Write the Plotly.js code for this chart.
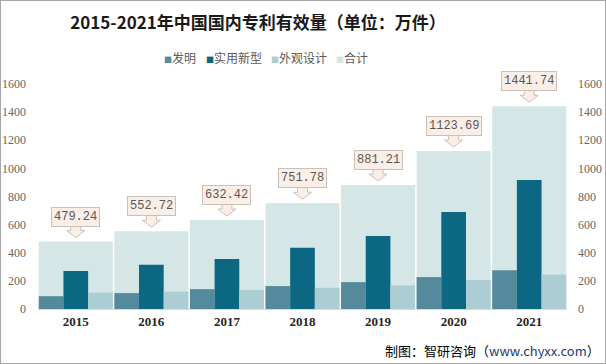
<!DOCTYPE html>
<html>
<head>
<meta charset="utf-8">
<script src="https://cdn.plot.ly/plotly-3.0.1.min.js"></script>
<style>
html,body{margin:0;padding:0;background:#fff;}
#wrap{position:relative;width:606px;height:364px;}
#chart{width:606px;height:364px;}
#frame{position:absolute;left:0;top:0;width:604px;height:362px;border:1px solid #A6A6A6;pointer-events:none;}
</style>
</head>
<body>
<div id="wrap"><div id="chart"></div><div id="frame"></div></div>
<script>
// ---- data ----
const years = ['2015', '2016', '2017', '2018', '2019', '2020', '2021'];
const invention = [91, 113, 141, 163, 191, 227, 276];     // 发明
const utility = [270, 314, 356, 436, 520, 690, 917];      // 实用新型
const design = [117, 123, 136, 151, 168, 206, 244];       // 外观设计
const total = [479.24, 552.72, 632.42, 751.78, 881.21, 1123.69, 1441.74]; // 合计
const totalLabels = ['479.24', '552.72', '632.42', '751.78', '881.21', '1123.69', '1441.74'];
const seriesNames = ['发明', '实用新型', '外观设计', '合计'];
const yTicks = [0, 200, 400, 600, 800, 1000, 1200, 1400, 1600];

const C_INV = '#548A9B', C_UTI = '#0C6782', C_DES = '#ADCDD4', C_TOT = '#D5E6E6';
const third = 0.98 / 3;

const traces = [
  {type: 'bar', name: '合计', x: years, y: total, marker: {color: C_TOT}, width: 0.98, offset: -0.49, hoverinfo: 'skip'},
  {type: 'bar', name: '发明', x: years, y: invention, marker: {color: C_INV}, width: third, offset: -0.49},
  {type: 'bar', name: '实用新型', x: years, y: utility, marker: {color: C_UTI}, width: third, offset: -0.49 + third},
  {type: 'bar', name: '外观设计', x: years, y: design, marker: {color: C_DES}, width: third, offset: -0.49 + 2 * third},
  {type: 'scatter', x: years, y: total, yaxis: 'y2', mode: 'markers', marker: {opacity: 0}, showlegend: false, hoverinfo: 'skip'}
];

// value callouts above the total bars
const annotations = years.map((yr, i) => ({
  x: i, y: total[i], xref: 'x', yref: 'y', text: totalLabels[i], showarrow: false,
  xanchor: 'center', yanchor: 'bottom', yshift: 15,
  font: {family: 'Liberation Mono, DejaVu Sans Mono, monospace', size: 12, color: '#595959'},
  bgcolor: '#FAEEE6', bordercolor: '#C9C0B8', borderwidth: 1, borderpad: 2
}));
annotations.push({
  xref: 'paper', yref: 'paper', x: (602 - 38) / 529, y: (309 - 350) / 225,
  xanchor: 'right', yanchor: 'middle', showarrow: false,
  text: '制图：智研咨询（<span style="color:#1F3A6E">www.chyxx.com</span>）',
  font: {family: 'Noto Sans CJK SC, sans-serif', size: 13, color: '#000000'}
});
// legend items as text
const legendColors = [C_INV, C_UTI, C_DES, C_TOT];
const legendX = [162, 204, 269, 334];
seriesNames.forEach((nm, i) => {
  annotations.push({
    xref: 'paper', yref: 'paper', x: (legendX[i] - 38) / 529, y: (309 - 58) / 225,
    xanchor: 'left', yanchor: 'middle', showarrow: false,
    text: '<span style="color:' + legendColors[i] + ';font-size:8px">■</span>' + nm,
    font: {family: 'Noto Sans CJK SC, sans-serif', size: 12, color: '#595959'}
  });
});

// down-pointing callout arrows, anchored at each total value
const shapes = years.map((yr, i) => ({
  type: 'path', xref: 'x', yref: 'y', xsizemode: 'pixel', ysizemode: 'pixel',
  xanchor: i, yanchor: total[i],
  path: 'M -5,16 L -5,11 L -9,11 L 0,4 L 9,11 L 5,11 L 5,16 Z',
  fillcolor: '#FAEEE6', line: {color: '#C9C0B8', width: 1}, layer: 'above'
}));

const tickFont = {family: 'Liberation Serif, serif', size: 12, color: '#666666'};

const layout = {
  width: 606, height: 364,
  margin: {l: 38, r: 39, t: 84, b: 55},
  paper_bgcolor: '#ffffff', plot_bgcolor: '#ffffff',
  barmode: 'overlay',
  title: {
    text: '2015-2021年中国国内专利有效量（单位：万件）',
    font: {family: 'Noto Sans CJK SC, sans-serif', size: 17, color: '#1a1a1a', weight: 'bold'},
    x: 258 / 606, xanchor: 'center', y: 1 - 23 / 364, yanchor: 'middle'
  },
  showlegend: false,
  xaxis: {
    type: 'category', range: [-0.5, 6.5], showline: true, linecolor: '#D9D9D9', linewidth: 1,
    ticks: '', showgrid: false,
    tickfont: {family: 'Liberation Serif, serif', size: 13, color: '#262626', weight: 'bold'}
  },
  yaxis: {
    range: [0, 1600], tickvals: yTicks, showgrid: false, zeroline: false, showline: false,
    ticks: '', tickfont: tickFont, ticklabelstandoff: 11
  },
  yaxis2: {
    range: [0, 1600], tickvals: yTicks, overlaying: 'y', side: 'right', showgrid: false,
    zeroline: false, showline: false, ticks: '', tickfont: tickFont, ticklabelstandoff: 10
  },
  annotations: annotations,
  shapes: shapes
};

Plotly.newPlot('chart', traces, layout, {displayModeBar: false, staticPlot: true});
</script>
</body>
</html>
